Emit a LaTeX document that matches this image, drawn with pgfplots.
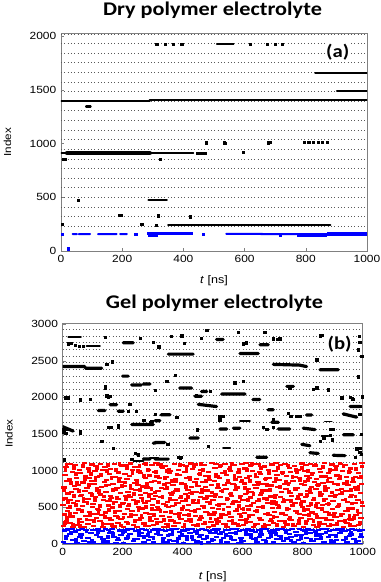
\documentclass[border=0pt]{standalone}
\usepackage{fontspec}
\setmainfont{Liberation Sans}[FakeStretch=1.15]
\newfontfamily\calibri{Carlito}[FakeStretch=1.15]
\usepackage{pgfplots}
\pgfplotsset{compat=1.18}

\pgfplotsset{
  panel/.style={scale only axis, anchor=south west,
    xmin=0, xmax=1000, xtick={0,200,...,1000},
    xtick pos=left, ytick pos=left, tick align=inside,
    axis line style={black!50}, tick style={black!50, major tick length=2.5pt},
    ticklabel style={font=\fontsize{7.8}{9}\selectfont},
    xlabel style={font=\fontsize{8.2}{10}\selectfont},
    ylabel style={font=\fontsize{7.6}{9}\selectfont},
    /pgf/number format/assume math mode=true,
    /pgf/number format/1000 sep={},
    xlabel={\textit{t} [ns]}, ylabel={Index},
    unbounded coords=jump},
  dotline/.style={black!65, line width=0.75pt, dash pattern=on 0.75pt off 1.75pt},
  blob/.style={black, line cap=round, line width=#1},
  dots/.style={black, only marks, mark=square*, mark size=0.85pt},
  streak/.style={#1, only marks, mark=-, mark size=2pt, mark options={line width=1.6pt}},
  speck/.style={#1, only marks, mark=square*, mark size=1.05pt},
}

\begin{document}
\begin{tikzpicture}
\useasboundingbox (0,0) rectangle (285pt,436.5pt);

% ---------------- (a) dry polymer electrolyte
\begin{axis}[panel, at={(45.75pt,248.25pt)}, width=229.5pt, height=163.5pt,
  ymin=0, ymax=2030, ytick={0,500,...,2000},
  xlabel style={at={(axis description cs:0.5,-0.134)}, anchor=center},
  ylabel style={at={(axis description cs:-0.175,0.5)}, anchor=center}]
\pgfplotsinvokeforeach{230,319.5,409,498.5,588,677.5,767,856.5,946,1035.5,1125,1214.5,1304,1393.5,1483,1572.5,1662,1751.5,1841,1930.5,2020}{
  \addplot[dotline] coordinates {(0,#1)(1000,#1)};}
% blue
\addplot[blue, line width=1.5pt, line cap=round] coordinates {
 (38,158)(52,158)(52,nan)(58,156)(95,158)(95,nan)(121,158)(182,158)(182,nan)
 (193,158)(215,158)(215,nan)(540,160)(656,160)(656,158)(770,158)(770,nan)};
\addplot[blue, line width=2pt] coordinates {(282,160)(433,160)};
\addplot[blue, line width=2.2pt] coordinates {(770,148)(870,148)};
\addplot[blue, line width=3.2pt] coordinates {(870,155)(1000,155)};
\addplot[blue, line width=1.2pt] coordinates {(770,163)(1000,163)};
\addplot[blue, only marks, mark=square*, mark size=0.85pt] coordinates {
 (4,158)(244,158)(290,147)(300,146)(310,148)(465,158)(717,150)(24,22)};
% black
\addplot[blob=3.3pt] coordinates {(20,912)(290,912)};
\addplot[blob=1.6pt] coordinates {
 (0,915)(20,915)(20,nan)(0,1393)(290,1393)(290,nan)(290,1403)(1000,1403)(1000,nan)
 (82,1346)(97,1346)(97,nan)(286,473)(346,473)(346,nan)(350,240)(880,240)(880,nan)
 (831,1655)(1000,1655)(1000,nan)(902,1490)(1000,1490)};
\addplot[blob=1.1pt] coordinates {(290,912)(433,912)(433,nan)(509,1928)(564,1928)};
\addplot[dots] coordinates {
 (8,853)(15,853)(325,853)(57,474)(190,333)(196,333)(318,327)(422,318)
 (4,247)(264,247)(311,240)(313,1928)(340,1928)(367,1928)(395,1928)
 (618,1925)(673,1928)(700,1928)(722,1925)(474,1009)(533,1009)(678,1009)(684,1012)
 (596,920)(536,1004)(795,1010)(810,1012)(825,1010)(840,1012)(855,1010)(869,1012)
 (445,912)(457,908)(470,912)};
\node[fill=white, inner sep=1pt, font=\calibri\bfseries\fontsize{13.5}{16}\selectfont]
  at (axis cs:904,1852) {(a)};
\end{axis}

% ---------------- (b) gel polymer electrolyte
\begin{axis}[panel, at={(47pt,28.5pt)}, width=225pt, height=165.5pt,
  ymin=0, ymax=3010, ytick={0,500,...,3000},
  xlabel style={at={(axis description cs:0.5,-0.15)}, anchor=center},
  ylabel style={at={(axis description cs:-0.179,0.5)}, anchor=center}]
\pgfplotsinvokeforeach{215,1115,1205.5,1296,1386.5,1477,1567.5,1658,1748.5,1839,1929.5,2020,2110.5,2201,2291.5,2382,2472.5,2563,2653.5,2744,2834.5,2925}{
  \addplot[dotline] coordinates {(0,#1)(1000,#1)};}
% red
\addplot[streak=red] coordinates {
(3,240)(12,318)(7,402)(16,455)(1,531)(10,620)(18,688)(5,770)(14,862)(8,940)(11,1050)
(35,232)(24,290)(31,375)(20,490)(37,560)(26,605)(29,710)(39,795)(22,880)(33,985)(27,1092)
(48,260)(57,345)(42,420)(53,470)(49,590)(59,650)(44,745)(51,810)(46,905)(56,1010)(41,1078)
(71,228)(61,300)(78,385)(66,515)(74,575)(63,668)(75,725)(68,838)(77,920)(60,968)(72,1100)
(85,275)(94,330)(89,440)(99,505)(84,612)(92,700)(81,760)(96,855)(90,895)(87,1030)(98,1085)
(103,245)(112,360)(107,410)(116,480)(101,545)(110,640)(118,730)(105,815)(114,910)(108,990)(111,1060)
(135,230)(124,310)(131,395)(120,462)(137,598)(126,676)(129,780)(139,842)(122,930)(133,1004)(127,1095)
(148,268)(157,352)(142,430)(153,525)(149,585)(159,655)(144,705)(151,800)(146,875)(156,960)(141,1045)
(171,238)(161,325)(178,378)(166,498)(174,570)(163,630)(175,740)(168,820)(177,915)(160,1020)(172,1090)
(185,290)(194,340)(189,455)(199,540)(184,610)(192,690)(181,765)(196,850)(190,905)(187,975)(198,1070)
(203,235)(212,305)(207,415)(216,475)(201,560)(210,660)(218,715)(205,790)(214,888)(208,950)(211,1082)
(235,255)(224,370)(231,445)(220,520)(237,600)(226,645)(229,750)(239,830)(222,925)(233,1015)(227,1098)
(248,226)(257,330)(242,390)(253,500)(249,580)(259,672)(244,735)(251,805)(246,870)(256,995)(241,1055)
(271,280)(261,350)(278,425)(266,485)(274,555)(263,625)(275,700)(268,785)(277,900)(260,965)(272,1088)
(285,242)(294,315)(289,405)(299,530)(284,590)(292,680)(281,770)(296,845)(290,935)(287,1008)(298,1075)
(303,262)(312,338)(307,460)(316,510)(301,615)(310,650)(318,725)(305,860)(314,920)(308,985)(311,1102)
(335,233)(324,300)(331,380)(320,470)(337,545)(326,640)(329,760)(339,812)(322,898)(333,1040)(327,1090)
(348,270)(357,365)(342,435)(353,505)(349,575)(359,695)(344,745)(351,835)(346,910)(356,970)(341,1060)
(371,248)(361,320)(378,410)(366,520)(374,600)(363,665)(375,720)(368,800)(377,880)(360,990)(372,1095)
(385,285)(394,345)(389,420)(399,490)(384,565)(392,630)(381,755)(396,825)(390,940)(387,1012)(398,1080)
(403,230)(412,312)(407,398)(416,468)(401,588)(410,678)(418,740)(405,818)(414,905)(408,978)(411,1066)
(435,258)(424,340)(431,450)(420,535)(437,605)(426,690)(429,775)(439,850)(422,915)(433,1025)(427,1098)
(448,240)(457,325)(442,385)(453,480)(449,560)(459,645)(444,710)(451,795)(446,890)(456,960)(441,1085)
(471,275)(461,360)(478,440)(466,515)(474,620)(463,700)(475,780)(468,840)(477,930)(460,1005)(472,1072)
(485,228)(494,305)(489,402)(499,495)(484,575)(492,655)(481,730)(496,810)(490,875)(487,985)(498,1100)
(503,252)(512,335)(507,430)(516,528)(501,595)(510,675)(518,760)(505,855)(514,920)(508,1040)(511,1090)
(535,268)(524,350)(531,415)(520,475)(537,550)(526,640)(529,725)(539,800)(522,900)(533,965)(527,1062)
(548,236)(557,310)(542,395)(553,505)(549,610)(559,685)(544,750)(551,830)(546,945)(556,1018)(541,1095)
(571,280)(561,365)(578,455)(566,540)(574,590)(563,660)(575,735)(568,815)(577,880)(560,990)(572,1078)
(585,244)(594,322)(589,408)(599,482)(584,570)(592,650)(581,770)(596,845)(590,910)(587,975)(598,1088)
(603,262)(612,340)(607,425)(616,520)(601,600)(610,680)(618,745)(605,825)(614,895)(608,1030)(611,1102)
(635,230)(624,300)(631,390)(620,470)(637,555)(626,635)(629,715)(639,805)(622,930)(633,1000)(627,1070)
(648,272)(657,355)(642,445)(653,510)(649,585)(659,670)(644,760)(651,850)(646,915)(656,985)(641,1092)
(671,238)(661,330)(678,412)(666,500)(674,620)(663,695)(675,740)(668,820)(677,885)(660,960)(672,1058)
(685,256)(694,318)(689,398)(699,488)(684,565)(692,648)(681,725)(696,798)(690,905)(687,1012)(698,1085)
(703,284)(712,370)(707,435)(716,530)(701,590)(710,665)(718,780)(705,840)(714,940)(708,995)(711,1100)
(735,232)(724,308)(731,420)(720,495)(737,575)(726,640)(729,710)(739,815)(722,870)(733,975)(727,1075)
(748,266)(757,345)(742,400)(753,478)(749,600)(759,690)(744,755)(751,830)(746,925)(756,1035)(741,1090)
(771,246)(761,328)(778,450)(766,525)(774,560)(763,655)(775,735)(768,860)(777,910)(760,980)(772,1062)
(785,278)(794,360)(789,415)(799,505)(784,610)(792,675)(781,765)(796,820)(790,895)(787,1005)(798,1098)
(803,235)(812,315)(807,390)(816,470)(801,580)(810,640)(818,720)(805,805)(814,930)(808,990)(811,1080)
(835,260)(824,342)(831,430)(820,515)(837,595)(826,700)(829,775)(839,845)(822,900)(833,965)(827,1092)
(848,228)(857,300)(842,408)(853,490)(849,565)(859,660)(844,745)(851,810)(846,885)(856,1022)(841,1070)
(871,272)(861,350)(878,440)(866,535)(874,615)(863,680)(875,730)(868,835)(877,920)(860,985)(872,1100)
(885,240)(894,325)(889,395)(899,480)(884,550)(892,650)(881,760)(896,850)(890,905)(887,970)(898,1085)
(903,258)(912,365)(907,425)(916,500)(901,590)(910,670)(918,740)(905,815)(914,935)(908,1010)(911,1065)
(935,232)(924,310)(931,410)(920,520)(937,605)(926,685)(929,755)(939,825)(922,890)(933,995)(927,1095)
(948,282)(957,345)(942,455)(953,495)(949,575)(959,640)(944,720)(951,800)(946,915)(956,980)(941,1078)
(971,245)(961,330)(978,400)(966,485)(974,560)(963,665)(975,770)(968,840)(977,910)(960,1030)(972,1090)
(985,265)(994,355)(989,420)(999,515)(984,600)(992,690)(981,735)(996,820)(990,895)(987,965)(998,1100)
};
\addplot[speck=red] coordinates {
(6,287)(14,355)(2,612)(17,580)(9,1012)(4,742)(23,412)(28,838)(33,268)(38,660)(45,532)(44,955)(52,300)(55,721)(63,452)
(66,1068)(69,612)(73,887)(79,338)(82,562)(86,804)(91,398)(95,960)(97,675)(12,1085)(58,245)(36,1040)(88,1002)(47,830)(25,505)
(104,312)(106,598)(109,875)(115,1032)(119,425)(121,705)(125,520)(128,948)(132,281)(138,650)(141,372)(145,802)(150,1078)(154,470)(158,598)
(162,905)(164,258)(167,735)(173,440)(176,1010)(180,632)(183,366)(186,862)(191,522)(195,255)(197,790)(113,760)(147,1002)(169,555)(189,1095)
(202,365)(206,842)(209,622)(213,1045)(217,282)(221,538)(225,792)(228,405)(232,968)(236,688)(240,312)(243,562)(247,845)(252,462)(255,1068)
(258,742)(262,385)(265,602)(269,928)(273,258)(276,510)(280,818)(284,1012)(287,660)(291,355)(295,752)(298,478)(219,660)(250,1002)(278,1095)
(304,402)(307,705)(309,985)(313,292)(318,578)(321,842)(325,452)(328,1062)(332,640)(336,335)(339,902)(343,528)(347,770)(350,250)(354,1008)
(357,612)(361,438)(364,860)(368,705)(372,300)(375,552)(379,952)(383,745)(386,385)(390,1085)(394,640)(397,478)(315,1095)(345,1000)(376,860)
(402,515)(405,268)(409,778)(412,1030)(416,645)(420,402)(423,895)(427,310)(431,700)(434,568)(438,1062)(441,455)(445,830)(449,262)(452,592)
(456,958)(459,372)(463,742)(467,1010)(470,505)(474,288)(477,862)(481,640)(485,420)(488,918)(492,352)(496,705)(410,600)(460,1090)(489,560)
(503,408)(506,652)(510,945)(513,288)(517,812)(521,540)(524,1072)(528,375)(532,730)(535,475)(539,985)(543,262)(546,615)(550,870)(554,428)
(557,1040)(561,692)(565,318)(568,560)(572,935)(575,792)(579,470)(583,262)(586,1010)(590,645)(594,378)(597,868)(519,310)(563,1098)(588,520)
(602,480)(606,770)(609,305)(613,1012)(617,602)(620,385)(624,858)(628,528)(631,1095)(635,690)(639,270)(642,945)(646,452)(650,815)(653,602)
(657,348)(661,1040)(664,725)(668,512)(672,258)(675,885)(679,620)(683,408)(686,975)(690,745)(694,330)(697,555)(615,710)(655,1080)(681,810)
(702,372)(706,648)(710,890)(713,262)(717,1035)(721,505)(724,782)(728,420)(732,965)(735,605)(739,298)(743,850)(746,480)(750,1075)(754,708)
(757,362)(761,588)(765,920)(768,262)(772,755)(776,1012)(779,438)(783,650)(787,312)(790,875)(794,552)(797,1045)(709,560)(752,815)(781,985)
(803,462)(806,855)(810,290)(813,668)(817,1002)(820,402)(824,740)(828,545)(831,952)(835,318)(838,620)(842,1085)(846,372)(849,812)(853,262)
(856,698)(860,925)(864,480)(867,1050)(871,598)(874,778)(878,340)(882,862)(885,545)(889,1010)(892,262)(896,705)(818,875)(844,520)(887,420)
(903,388)(906,660)(910,1042)(913,275)(917,815)(921,540)(924,925)(928,402)(931,702)(935,1072)(939,318)(942,610)(946,852)(949,472)(953,982)
(957,262)(960,745)(964,555)(967,890)(971,358)(975,650)(978,1025)(982,448)(985,785)(989,295)(993,915)(996,570)(923,1100)(955,390)(998,1060)
};
% blue
\addplot[blue, line width=1pt] coordinates {(0,6)(1000,6)};
\addplot[streak=blue] coordinates {
(3,25)(12,110)(7,185)(16,198)(35,60)(24,140)(31,200)(20,206)(48,15)(57,95)(42,170)(53,192)
(71,45)(61,130)(78,195)(66,202)(85,80)(94,155)(89,30)(99,195)(103,20)(112,120)(107,190)(116,198)
(135,65)(124,100)(131,175)(120,206)(148,35)(157,145)(142,205)(153,192)(171,90)(161,160)(178,10)(166,202)
(185,50)(194,125)(189,185)(199,195)(203,15)(212,75)(207,170)(216,198)(235,40)(224,135)(231,200)(220,206)
(248,70)(257,110)(242,180)(253,192)(271,25)(261,150)(278,195)(266,202)(285,55)(294,95)(289,165)(299,195)
(303,30)(312,140)(307,205)(316,198)(335,85)(324,120)(331,190)(320,206)(348,20)(357,60)(342,175)(353,192)
(371,45)(361,130)(378,200)(366,202)(385,75)(394,105)(389,160)(399,195)(403,15)(412,115)(407,185)(416,198)
(435,50)(424,150)(431,200)(420,206)(448,35)(457,90)(442,170)(453,192)(471,65)(461,125)(478,195)(466,202)
(485,20)(494,145)(489,180)(499,195)(503,55)(512,100)(507,205)(516,198)(535,80)(524,135)(531,165)(520,206)
(548,30)(557,110)(542,190)(553,192)(571,60)(561,155)(578,200)(566,202)(585,15)(594,85)(589,175)(599,195)
(603,40)(612,120)(607,195)(616,198)(635,70)(624,140)(631,185)(620,206)(648,25)(657,100)(642,160)(653,192)
(671,50)(661,130)(678,205)(666,202)(685,85)(694,150)(689,180)(699,195)(703,20)(712,65)(707,170)(716,198)
(735,45)(724,115)(731,200)(720,206)(748,75)(757,140)(742,190)(753,192)(771,30)(761,95)(778,165)(766,202)
(785,55)(794,125)(789,205)(799,195)(803,15)(812,80)(807,185)(816,198)(835,40)(824,150)(831,195)(820,206)
(848,65)(857,105)(842,170)(853,192)(871,25)(861,135)(878,200)(866,202)(885,90)(894,120)(889,180)(899,195)
(903,35)(912,60)(907,190)(916,198)(935,50)(924,145)(931,205)(920,206)(948,20)(957,110)(942,175)(953,192)
(971,70)(961,130)(978,195)(966,202)(985,45)(994,95)(989,185)(999,195)
};
\addplot[speck=blue] coordinates {
(10,80)(27,150)(44,55)(62,100)(79,175)(96,40)(117,160)(133,30)(150,95)(168,140)(184,70)(201,160)(218,100)(238,60)(254,150)
(269,95)(283,130)(302,80)(318,160)(333,40)(350,120)(365,170)(382,30)(398,130)(414,70)(430,100)(446,150)(462,20)(480,100)(497,60)
(510,160)(527,40)(544,130)(560,90)(577,150)(593,45)(610,160)(627,100)(644,70)(660,170)(676,30)(693,110)(710,140)(727,80)(744,160)
(760,50)(776,120)(793,90)(810,150)(826,60)(843,130)(860,80)(876,160)(893,45)(910,110)(926,170)(943,80)(960,150)(977,30)(994,130)
};
% black
\addplot[blob=2.4pt] coordinates {
 (0,2420)(74,2420)(74,nan)(76,2398)(130,2398)(130,nan)(202,2745)(235,2745)(235,nan)
 (352,2590)(435,2590)(435,nan)(200,2290)(218,2290)(218,nan)(230,2170)(262,2170)(262,nan)
 (269,2182)(291,2182)(291,nan)(390,2127)(430,2127)(430,nan)(463,2080)(480,2080)(480,nan)
 (158,1900)(180,1900)(180,nan)(119,1820)(141,1820)(141,nan)(185,1812)(202,1812)(202,nan)
 (328,1762)(358,1762)(358,nan)(452,1905)(513,1875)(513,nan)(513,2790)(535,2790)(535,nan)
 (658,2718)(685,2718)(685,nan)(591,2598)(652,2598)(652,nan)(702,2450)(790,2440)(813,2420)(813,nan)
 (858,2377)(919,2377)(919,nan)(530,2045)(608,2045)(608,nan)(634,1970)(657,1970)(657,nan)
 (685,1830)(702,1830)(702,nan)(813,1760)(830,1760)(830,nan)(935,1775)(980,1730)(980,nan)
 (230,1630)(302,1630)(302,nan)(308,1682)(324,1682)(324,nan)(0,1600)(35,1540)(35,nan)
 (308,1385)(340,1385)(340,nan)(269,1160)(291,1160)(291,nan)(308,1158)(352,1158)(352,nan)
 (424,1445)(452,1445)(452,nan)(697,1660)(719,1660)(719,nan)(524,1568)(547,1568)(547,nan)
 (569,1580)(591,1580)(591,nan)(719,1570)(757,1570)(757,nan)(802,1580)(841,1560)(841,nan)
 (936,1489)(969,1489)(969,nan)(647,1182)(680,1182)(680,nan)(797,1360)(824,1340)(824,nan)
 (824,1245)(852,1235)(852,nan)(902,1210)(941,1205)(941,nan)(958,1876)(991,1876)(991,nan)
 (441,2016)(463,2016)(463,nan)(747,2150)(769,2150)(769,nan)(302,1375)(310,1380)};
\addplot[blob=1.4pt] coordinates {
 (535,1307)(558,1307)(558,nan)(874,1671)(897,1671)(897,nan)(591,1675)(624,1675)(624,nan)
 (236,1129)(269,1129)(269,nan)(291,1174)(319,1174)(319,nan)(863,1470)(886,1470)(886,nan)
 (19,2824)(61,2824)(61,nan)(80,2700)(124,2700)};
\addplot[dots] coordinates {
 (141,2824)(19,2732)(28,2740)(41,2710)(55,2700)(69,2695)(258,2810)(302,2755)(363,2832)(397,2841)
 (320,2690)(405,2735)(463,2810)(480,2918)(586,2890)(602,2732)(674,2890)(702,2800)(715,2795)(724,2800)
 (613,2745)(858,2841)(866,2850)(847,2514)(985,2650)(997,2563)(986,2280)(988,2830)(990,2750)
 (147,2455)(165,2486)(308,2094)(347,2217)(141,2149)(141,2130)(147,2030)(152,2000)(158,2016)(58,1967)(8,1994)
 (19,1994)(91,1971)(224,1910)(246,1812)(219,1811)(297,1671)(270,1690)(380,1730)(445,2030)(491,2081)
 (602,2217)(574,2198)(757,2131)(847,2131)(885,2103)(836,2107)(958,2000)(966,1980)(930,1994)(969,1971)
 (524,1694)(752,1785)(780,1743)(791,1743)(702,1700)(760,1740)(308,1766)(291,1652)(186,1598)
 (58,1534)(58,1507)(152,1590)(163,1592)(185,1616)(2,1561)(13,1561)(130,1397)(169,1307)(350,1360)
 (241,1239)(252,1216)(230,1160)(385,1180)(395,1182)(391,1174)(485,1330)(449,1557)(5,1150)
 (524,1740)(535,1745)(669,1590)(680,1561)(702,1590)(858,1400)(870,1440)(891,1480)(899,1420)
 (891,1561)(902,1561)(980,1300)(990,1250)(993,1307)(975,1180)(375,2299)(998,2010)(995,1500)
 (992,1880)(996,1225)(990,1770)(4,1520)(10,1510)(147,2016)};
\node[fill=white, inner sep=1pt, font=\calibri\bfseries\fontsize{13.5}{16}\selectfont]
  at (axis cs:923,2719) {(b)};
\end{axis}

\node[anchor=base, font=\calibri\bfseries\fontsize{14.5}{17}\selectfont]
  at (159.4pt,424.5pt) {Dry polymer electrolyte};
\node[anchor=base, font=\calibri\bfseries\fontsize{14.5}{17}\selectfont]
  at (160.9pt,205.3pt) {Gel polymer electrolyte};
\end{tikzpicture}
\end{document}
